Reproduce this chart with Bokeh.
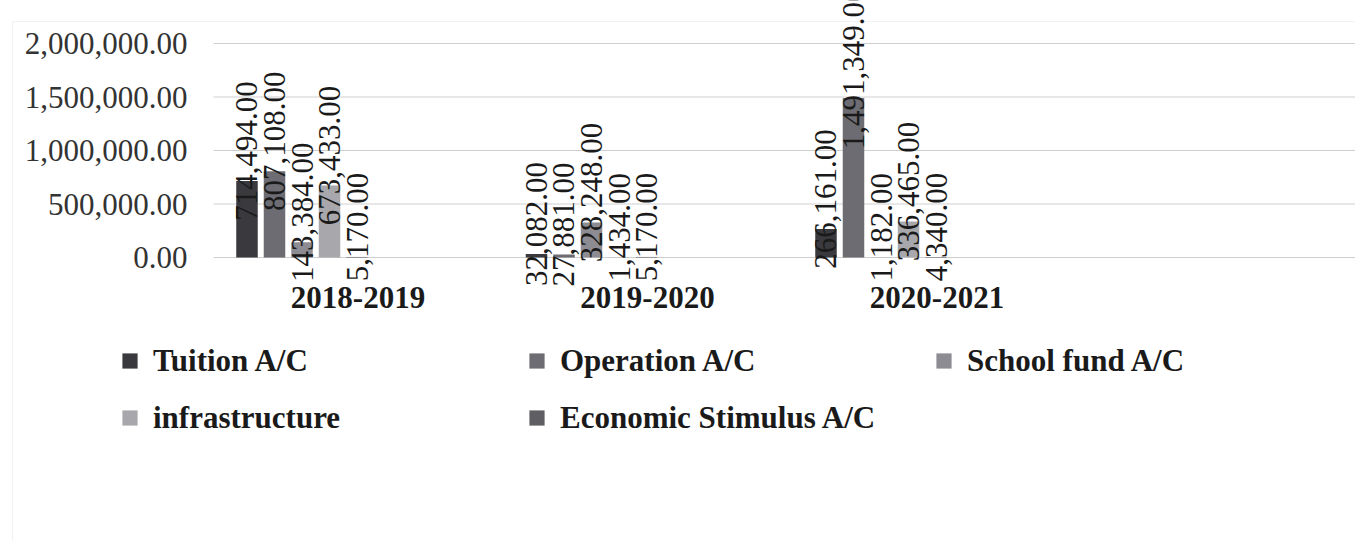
import math
from bokeh.plotting import figure
from bokeh.models import (ColumnDataSource, Range1d, Legend, LegendItem, BoxAnnotation)
from bokeh.transform import dodge
from bokeh.core.properties import value
from bokeh.embed import file_html
from bokeh.resources import INLINE

years = ["2018-2019", "2019-2020", "2020-2021"]
series_names = ["Tuition A/C", "Operation A/C", "School fund A/C", "infrastructure", "Economic Stimulus A/C"]
tuition = [714494, 32082, 266161]
operation = [807108, 27881, 1491349]
school_fund = [143384, 328248, 1182]
infrastructure = [673433, 1434, 336465]
economic_stimulus = [5170, 5170, 4340]
y_ticks = [0, 500000, 1000000, 1500000, 2000000]
y_tick_labels = [f"{t:,.2f}" for t in y_ticks]

series_values = [tuition, operation, school_fund, infrastructure, economic_stimulus]
colors = ["#3a3a3e", "#6c6c72", "#8c8c92", "#a8a8ac", "#5e5e63"]

SERIF = "Liberation Serif"

W, H = 1355, 541
# pixel geometry (layout only)
cat_px0, cat_pitch = 301.5, 289.5      # first group centre, group pitch
zero_px, px_per_unit = 257.0, 53.5 / 500000
plot_left_px = 213


def xd(px):
    return (px - cat_px0) / cat_pitch


def yd(py):
    return (zero_px - py) / px_per_unit


p = figure(width=W, height=H, output_backend="svg", toolbar_location=None,
           x_range=Range1d(xd(0), xd(W)), y_range=Range1d(yd(H), yd(0)),
           x_axis_location=None, y_axis_location=None,
           min_border_left=0, min_border_right=0, min_border_top=0, min_border_bottom=0)
p.outline_line_color = None
p.xgrid.visible = False
p.ygrid.visible = False

# chart-area border
p.add_layout(BoxAnnotation(left=xd(12), right=xd(W + 50), top=yd(21), bottom=yd(H + 50),
                           fill_alpha=0, line_color="#d4d4d4", line_width=1, level="underlay"))

# horizontal gridlines at the value ticks, starting at the plot area's left edge
grid_src = ColumnDataSource(dict(x0=[xd(plot_left_px)] * len(y_ticks),
                                 x1=[xd(W + 10)] * len(y_ticks), y=y_ticks))
p.segment(x0="x0", y0="y", x1="x1", y1="y", source=grid_src,
          line_color="#cfcfcf", line_width=1)

# y-axis tick labels
tick_src = ColumnDataSource(dict(x=[xd(plot_left_px)] * len(y_ticks), y=y_ticks, t=y_tick_labels))
p.text(x="x", y="y", text="t", source=tick_src, x_offset=-26, text_align="right",
       text_baseline="middle", text_font=value(SERIF), text_font_size="31px",
       text_color="#333333")

xs = list(range(len(years)))
step = 0.095
bw = 0.0743
items = []
for k, (name, vals, col) in enumerate(zip(series_names, series_values, colors)):
    src = ColumnDataSource(dict(x=xs, v=vals, lab=[f"{v:,.2f}" for v in vals]))
    off = (k - 2) * step
    r = p.vbar(x=dodge("x", off), top="v", bottom=0, width=bw, source=src,
               fill_color=col, line_color=None)
    p.text(x=dodge("x", off), y="v", text="lab", source=src, angle=math.pi / 2,
           text_align="center", text_baseline="middle", y_offset=-30,
           text_font=value(SERIF), text_font_size="31px", text_color="#1a1a1a")
    items.append(LegendItem(label=name, renderers=[r]))

cat_src = ColumnDataSource(dict(x=xs, y=[0] * len(years), t=years))
p.text(x="x", y="y", text="t", source=cat_src, x_offset=56, y_offset=40,
       text_align="center", text_baseline="middle", text_font=value(SERIF),
       text_font_size="31px", text_font_style="bold", text_color="#1a1a1a")

legend = Legend(items=items, location=(120, 95), orientation="horizontal", ncols=3,
                margin=0, padding=0, spacing=0, glyph_width=19, glyph_height=19,
                label_standoff=14, label_width=374, label_height=57,
                label_text_font=SERIF, label_text_font_size="31px",
                label_text_font_style="bold", label_text_color="#1a1a1a",
                border_line_color=None, background_fill_alpha=0)
p.add_layout(legend, "center")

open("out.html", "w").write(file_html(p, INLINE))
